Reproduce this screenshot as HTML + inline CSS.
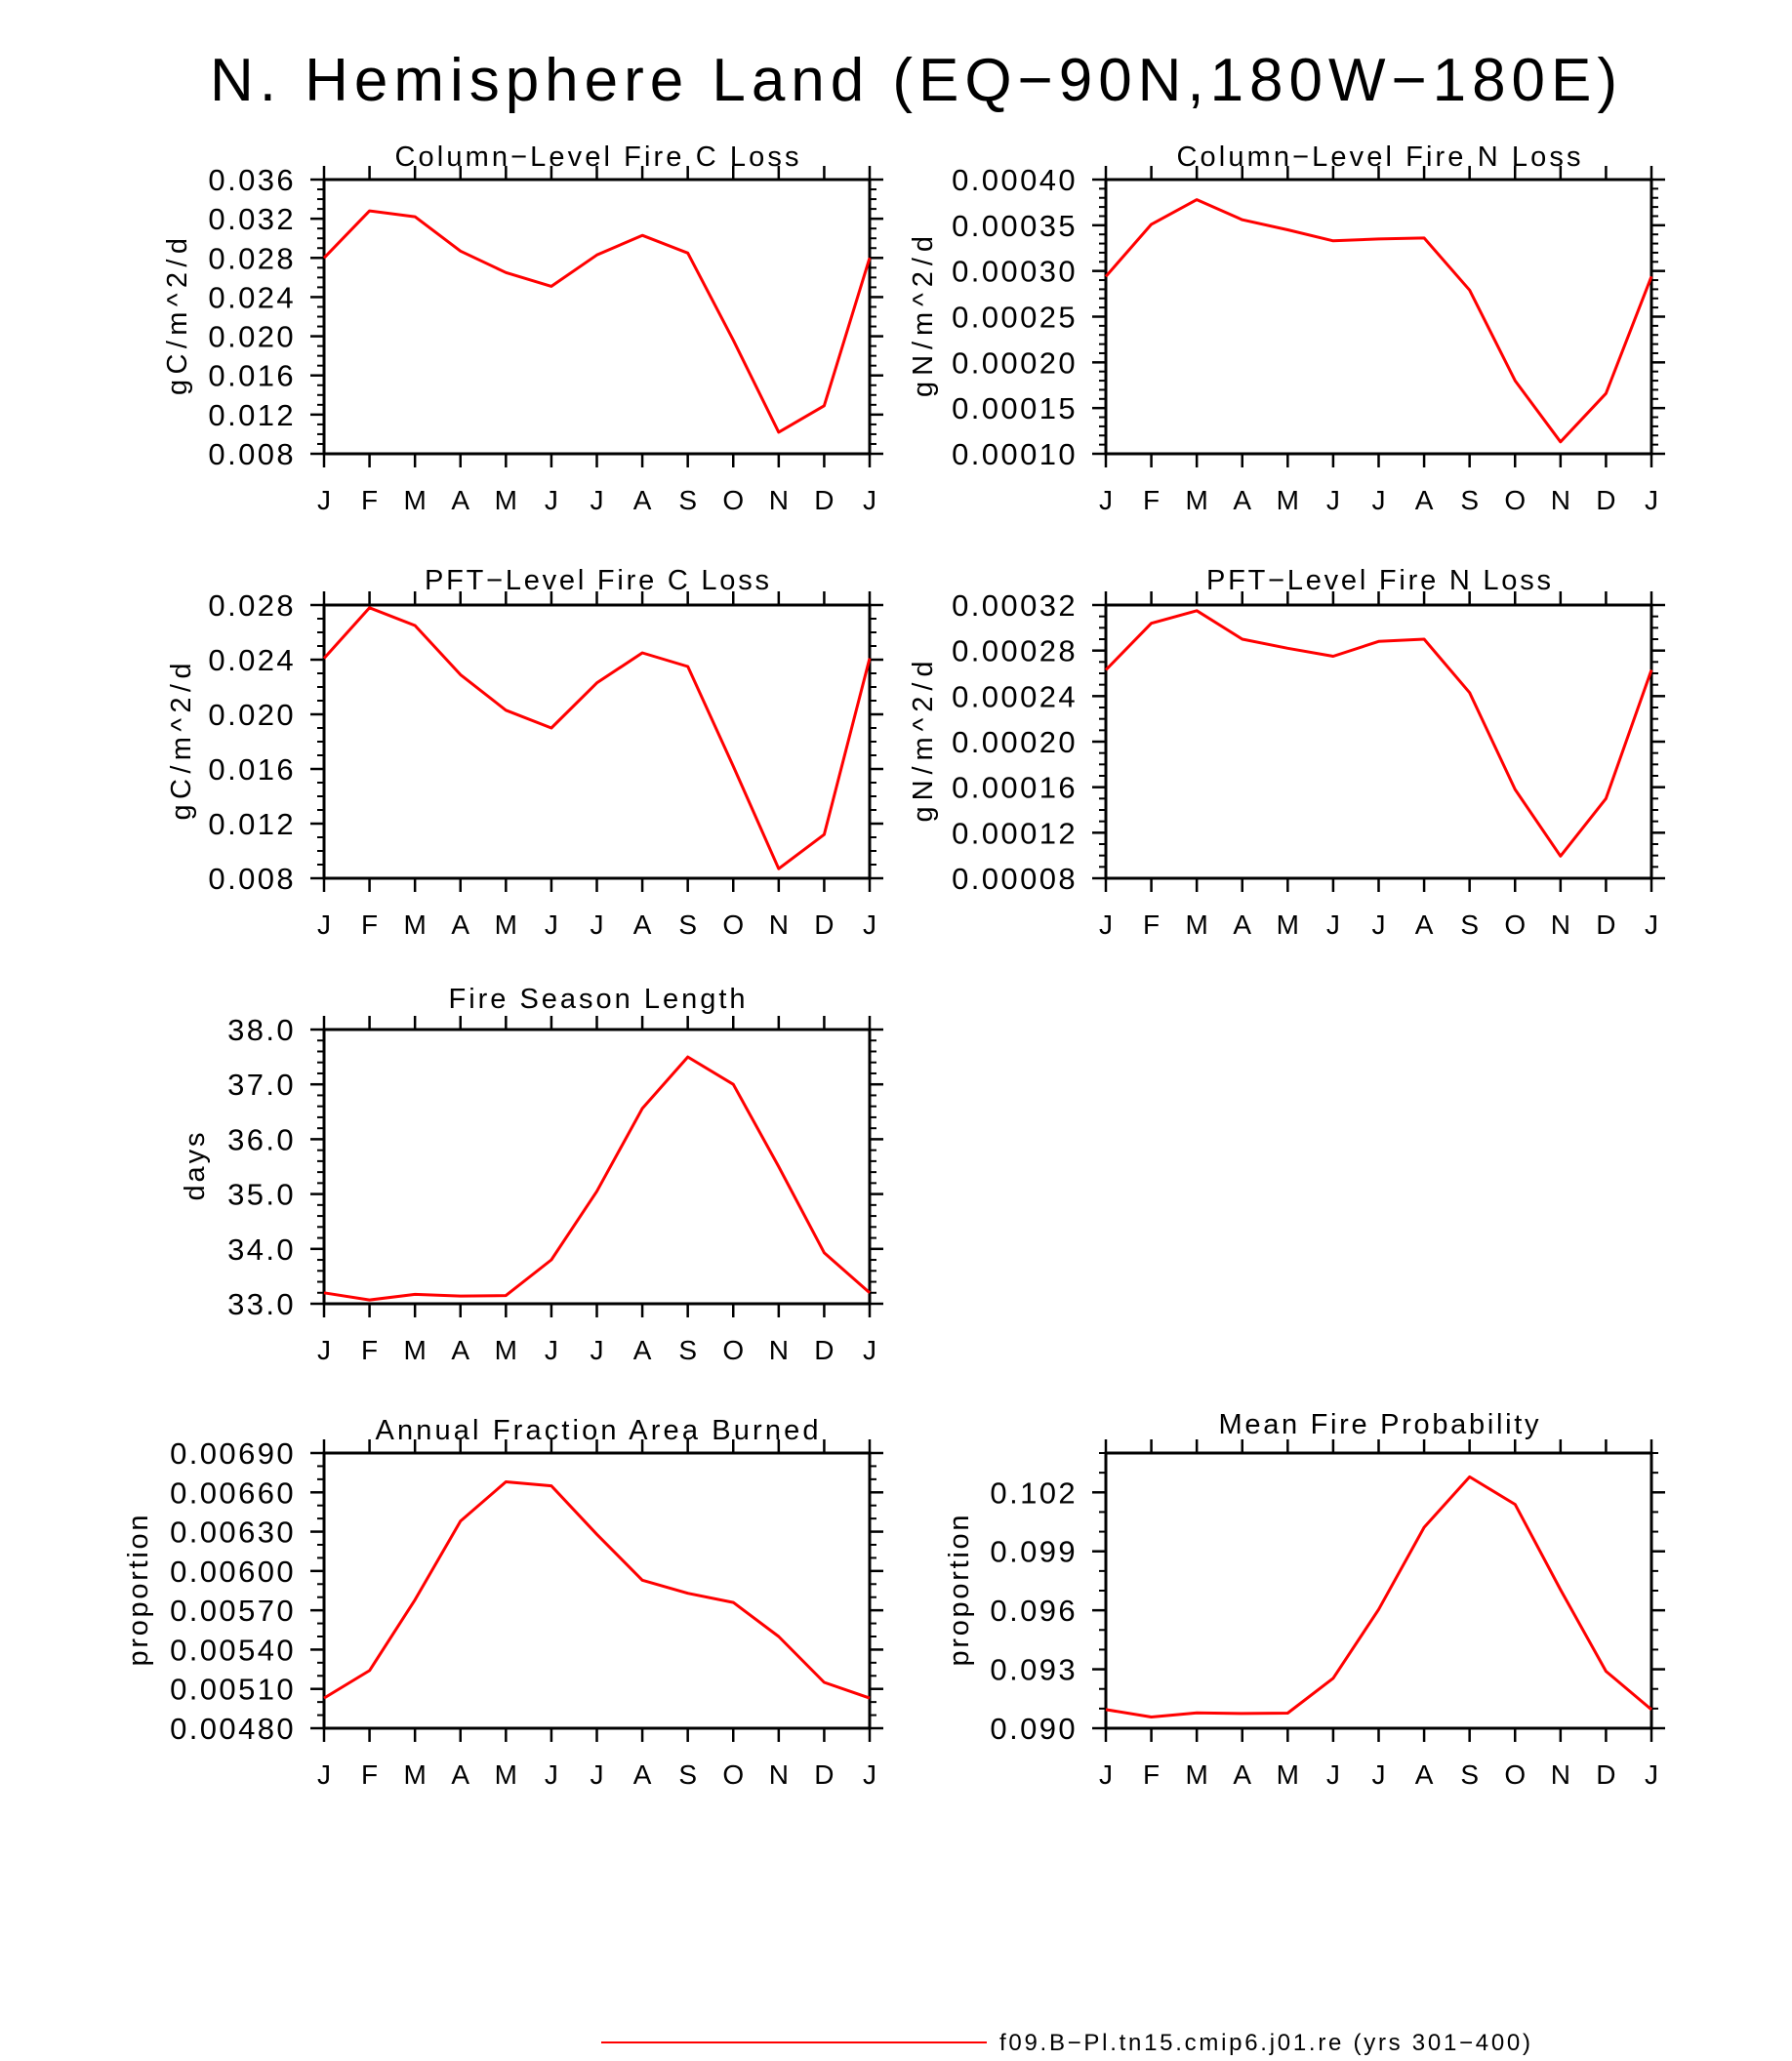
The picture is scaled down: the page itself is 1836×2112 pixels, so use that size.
<!DOCTYPE html>
<html><head><meta charset="utf-8"><style>
html,body{margin:0;padding:0;background:#fff;}
svg{display:block;font-family:"Liberation Sans",sans-serif;}
</style></head><body>
<svg id="fig" width="1836" height="2112" viewBox="0 0 1836 2112" xmlns="http://www.w3.org/2000/svg">
<text x="215" y="103" textLength="1442" lengthAdjust="spacing" font-size="62" fill="#000">N. Hemisphere Land (EQ−90N,180W−180E)</text>
<line x1="616" y1="2093" x2="1011" y2="2093" stroke="#f00" stroke-width="2"/>
<text x="1024" y="2101" textLength="544" lengthAdjust="spacing" font-size="24" fill="#000">f09.B−Pl.tn15.cmip6.j01.re (yrs 301−400)</text>
</svg>
<script>
const months = ["J","F","M","A","M","J","J","A","S","O","N","D","J"];
const colCLoss = [0.0280,0.0328,0.0322,0.0287,0.0265,0.0251,0.0283,0.0303,0.0285,0.0196,0.0102,0.0129];
const colNLoss = [0.000294,0.000351,0.000378,0.000356,0.000345,0.000333,0.000335,0.000336,0.000279,0.000180,0.000113,0.000166];
const pftCLoss = [0.0241,0.0278,0.0265,0.0229,0.0203,0.0190,0.0223,0.0245,0.0235,0.0162,0.0087,0.0112];
const pftNLoss = [0.000263,0.000304,0.000315,0.000290,0.000282,0.000275,0.000288,0.000290,0.000243,0.000158,0.0000995,0.000150];
const seasonLen = [33.2,33.07,33.17,33.14,33.15,33.8,35.05,36.56,37.5,37.0,35.5,33.93];
const areaBurned = [0.00503,0.00524,0.00578,0.00638,0.00668,0.00665,0.00628,0.00593,0.00583,0.00576,0.00550,0.00515];
const fireProb = [0.09095,0.09057,0.09078,0.09075,0.09077,0.09254,0.09604,0.10022,0.10279,0.10139,0.09705,0.0929];

const ticksP1 = ["0.008","0.012","0.016","0.020","0.024","0.028","0.032","0.036"];
const ticksP2 = ["0.00010","0.00015","0.00020","0.00025","0.00030","0.00035","0.00040"];
const ticksP3 = ["0.008","0.012","0.016","0.020","0.024","0.028"];
const ticksP4 = ["0.00008","0.00012","0.00016","0.00020","0.00024","0.00028","0.00032"];
const ticksP5 = ["33.0","34.0","35.0","36.0","37.0","38.0"];
const ticksP6 = ["0.00480","0.00510","0.00540","0.00570","0.00600","0.00630","0.00660","0.00690"];
const ticksP7 = ["0.090","0.093","0.096","0.099","0.102"];

const NS = "http://www.w3.org/2000/svg";
const svg = document.getElementById("fig");
function mk(tag, attrs, parent){
  const e = document.createElementNS(NS, tag);
  for (const k in attrs) e.setAttribute(k, attrs[k]);
  (parent||svg).appendChild(e);
  return e;
}
const panels = [
  {key:"col-c-loss", title:"Column−Level Fire C Loss", tw:414, ylab:"gC/m^2/d", lw:161, data:colCLoss, ticks:ticksP1, ymin:0.008, ymax:0.036, step:0.004, minor:3, x0:332,x1:891,y0:184,y1:465, ty:161, labx:181},
  {key:"col-n-loss", title:"Column−Level Fire N Loss", tw:414, ylab:"gN/m^2/d", lw:165, data:colNLoss, ticks:ticksP2, ymin:0.0001, ymax:0.0004, step:0.00005, minor:4, x0:1133,x1:1692,y0:184,y1:465, ty:161, labx:945},
  {key:"pft-c-loss", title:"PFT−Level Fire C Loss", tw:353, ylab:"gC/m^2/d", lw:161, data:pftCLoss, ticks:ticksP3, ymin:0.008, ymax:0.028, step:0.004, minor:3, x0:332,x1:891,y0:620,y1:900, ty:595, labx:185},
  {key:"pft-n-loss", title:"PFT−Level Fire N Loss", tw:353, ylab:"gN/m^2/d", lw:165, data:pftNLoss, ticks:ticksP4, ymin:0.00008, ymax:0.00032, step:0.00004, minor:3, x0:1133,x1:1692,y0:620,y1:900, ty:595, labx:945},
  {key:"fire-season", title:"Fire Season Length", tw:304, ylab:"days", lw:70, data:seasonLen, ticks:ticksP5, ymin:33, ymax:38, step:1, minor:4, x0:332,x1:891,y0:1055,y1:1336, ty:1024, labx:199},
  {key:"area-burned", title:"Annual Fraction Area Burned", tw:454, ylab:"proportion", lw:155, data:areaBurned, ticks:ticksP6, ymin:0.0048, ymax:0.0069, step:0.0003, minor:2, x0:332,x1:891,y0:1489,y1:1771, ty:1466, labx:141},
  {key:"fire-prob", title:"Mean Fire Probability", tw:328, ylab:"proportion", lw:155, data:fireProb, ticks:ticksP7, ymin:0.090, ymax:0.104, step:0.003, minor:2, x0:1133,x1:1692,y0:1489,y1:1771, ty:1460, labx:982}
];
panels.forEach(p=>{
  const g = mk("g",{});
  
  
  const xs = i => p.x0 + i*(p.x1-p.x0)/12;
  const ys = v => p.y1 - (v-p.ymin)/(p.ymax-p.ymin)*(p.y1-p.y0);
  for (let i=0;i<13;i++){
    const x = xs(i);
    mk("line",{x1:x,y1:p.y1,x2:x,y2:p.y1+14,stroke:"#000","stroke-width":2.5},g);
    mk("line",{x1:x,y1:p.y0,x2:x,y2:p.y0-14,stroke:"#000","stroke-width":2.5},g);
    const t = mk("text",{x:x,y:p.y1+57,"text-anchor":"middle","font-size":28,fill:"#000"},g);
    
    
    t.textContent = months[i];
  }
  const nMaj = Math.floor((p.ymax-p.ymin)/p.step + 1e-6);
  for (let k=0;k<=nMaj;k++){
    const v = p.ymin + k*p.step, y = ys(v);
    mk("line",{x1:p.x0,y1:y,x2:p.x0-14,y2:y,stroke:"#000","stroke-width":2.5},g);
    mk("line",{x1:p.x1,y1:y,x2:p.x1+14,y2:y,stroke:"#000","stroke-width":2.5},g);
    if (k < p.ticks.length){
      const t = mk("text",{x:p.x0-29,y:y+11,"text-anchor":"end","font-size":31,"letter-spacing":2.4,fill:"#000"},g);
      
      
      t.textContent = p.ticks[k];
    }
  }
  const total = Math.round((p.ymax-p.ymin)/p.step*(p.minor+1));
  for (let m=0;m<=total;m++){
    if (m % (p.minor+1) === 0) continue;
    const ym = ys(p.ymin + m*p.step/(p.minor+1));
    if (ym < p.y0-0.5) continue;
    mk("line",{x1:p.x0,y1:ym,x2:p.x0-7,y2:ym,stroke:"#000","stroke-width":2},g);
    mk("line",{x1:p.x1,y1:ym,x2:p.x1+7,y2:ym,stroke:"#000","stroke-width":2},g);
  }
  const fr = mk("rect",{x:p.x0,y:p.y0,width:p.x1-p.x0,height:p.y1-p.y0,fill:"none",stroke:"#000","stroke-width":3},g);
  
  
  const vals = p.data.concat([p.data[0]]);
  const pts = vals.map((v,i)=>xs(i).toFixed(1)+","+ys(v).toFixed(1)).join(" ");
  const pl = mk("polyline",{points:pts,fill:"none",stroke:"#f00","stroke-width":3,"stroke-linejoin":"round"},g);
  
  
  const cx = (p.x0+p.x1)/2;
  const tt = mk("text",{x:cx-p.tw/2,y:p.ty+9,textLength:p.tw,lengthAdjust:"spacing","font-size":29,fill:"#000"},g);
  
  
  tt.textContent = p.title;
  const cy = (p.y0+p.y1)/2;
  const yl = mk("text",{x:p.labx-p.lw/2,y:cy,textLength:p.lw,lengthAdjust:"spacing","font-size":29,fill:"#000",transform:`rotate(-90 ${p.labx} ${cy})`,dy:10},g);
  
  
  yl.textContent = p.ylab;
});
</script>
</body></html>
